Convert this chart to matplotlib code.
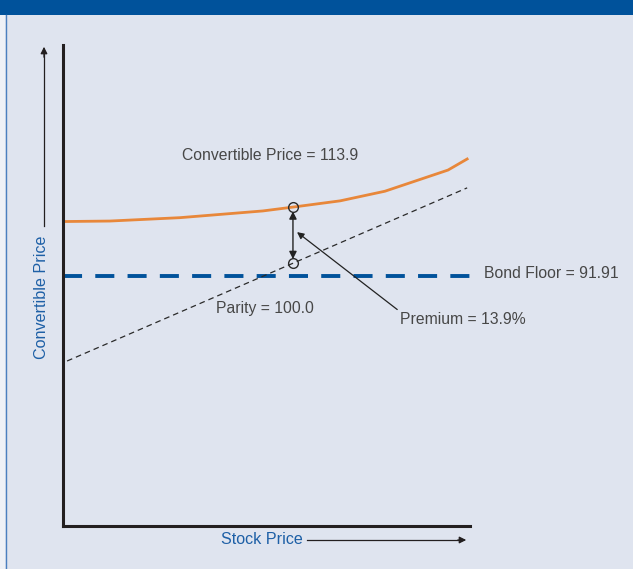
import matplotlib
matplotlib.use("Agg")
import matplotlib.pyplot as plt
from matplotlib.patches import Rectangle, FancyArrowPatch
from matplotlib.lines import Line2D

plt.rcParams['font.family'] = ['Liberation Sans', 'DejaVu Sans']

W, H = 633, 569
DPI = 100

# Schematic data (stock price index 0-100, price index 0-100)
stock_conv = [0.5, 11.5, 28.7, 49.1, 56.5, 68.1, 79.1, 94.6, 99.3]
conv_price = [63.3, 63.4, 64.1, 65.5, 66.3, 67.6, 69.6, 74.0, 76.3]
stock_parity = [1.0, 99.3]
parity = [34.3, 70.3]
bond_floor_level = 52.0
bond_floor_x = [0, 100.5]
current_stock = 56.5
current_conv = 66.3
current_parity = 54.6

labels = {
    "conv": "Convertible Price = 113.9",
    "parity": "Parity = 100.0",
    "premium": "Premium = 13.9%",
    "floor": "Bond Floor = 91.91",
    "ylabel": "Convertible Price",
    "xlabel": "Stock Price",
}

BG = '#dfe4ef'
NAVY = '#00529b'
ORANGE = '#e8873a'
LBLUE = '#1d5fa6'
DARK = '#231f20'
TXT = '#474747'
FS = 11.3

fig = plt.figure(figsize=(W / DPI, H / DPI), dpi=DPI)
fig.patch.set_facecolor(BG)

def fx(px):
    return px / W

def fy(py):
    return 1 - py / H

# header band
fig.patches.append(Rectangle((0, fy(14.5)), 1, 14.5 / H, transform=fig.transFigure,
                             facecolor=NAVY, edgecolor='none', zorder=0))
# left border
fig.patches.append(Rectangle((0, 0), fx(5), fy(14.5), transform=fig.transFigure,
                             facecolor='#eef1f7', edgecolor='none', zorder=0))
fig.add_artist(Line2D([fx(5.5), fx(5.5)], [0, fy(14.5)], transform=fig.transFigure,
                      color='#4a7fc0', lw=1))

ax = fig.add_axes([fx(63), fy(526), fx(470) - fx(63), fy(45) - fy(526)])
ax.set_facecolor('none')
ax.set_xlim(0, 100)
ax.set_ylim(0, 100)
for s in ['top', 'right']:
    ax.spines[s].set_visible(False)
for s in ['left', 'bottom']:
    ax.spines[s].set_color(DARK)
    ax.spines[s].set_linewidth(2.2)
ax.set_xticks([])
ax.set_yticks([])

# bond floor
ax.plot(bond_floor_x, [bond_floor_level] * 2, color=NAVY, lw=2.8,
        dashes=(4.9, 3.4), clip_on=False, dash_capstyle='butt')
# parity
ax.plot(stock_parity, parity, color='#2a2a2a', lw=0.9, dashes=(4.5, 3.2))
# convertible price
ax.plot(stock_conv, conv_price, color=ORANGE, lw=2.0)

# circles
ax.plot([current_stock, current_stock], [current_conv, current_parity], 'o',
        ms=7, mfc='none', mec='#2a2a2a', mew=1.0, zorder=5)

# double-headed premium arrow
ax.annotate('', xy=(current_stock, current_parity + 0.9), xytext=(current_stock, current_conv - 0.9),
            arrowprops=dict(arrowstyle='<|-|>', color='#222222', lw=1.0,
                            mutation_scale=11, shrinkA=0, shrinkB=0))

# premium label with pointer
ax.annotate(labels["premium"], xy=(57.5, 61.1), xytext=(82.8, 43.0),
            fontsize=FS, color=TXT, ha='left', va='center',
            arrowprops=dict(arrowstyle='-|>', color='#222222', lw=0.9,
                            mutation_scale=10, shrinkA=0, shrinkB=0,
                            relpos=(0, 1)))

ax.text(29.2, 77.1, labels["conv"], fontsize=FS, color=TXT, ha='left', va='center')
ax.text(37.6, 45.3, labels["parity"], fontsize=FS, color=TXT, ha='left', va='center')
ax.text(103.4, 52.4, labels["floor"], fontsize=FS, color=TXT, ha='left', va='center',
        clip_on=False)

# axis labels with arrows
fig.text(fx(42), fy(297), labels["ylabel"], rotation=90, color=LBLUE, fontsize=11.6,
         ha='center', va='center')
fig.add_artist(Line2D([fx(44), fx(44)], [fy(226), fy(52)], transform=fig.transFigure,
                      color=DARK, lw=0.9))
fig.patches.append(FancyArrowPatch(
    (fx(44), fy(60)), (fx(44), fy(44)), transform=fig.transFigure,
    arrowstyle='-|>', mutation_scale=10, color=DARK, lw=0.9))

fig.text(fx(262), fy(540), labels["xlabel"], color=LBLUE, fontsize=11.6,
         ha='center', va='center')
fig.add_artist(Line2D([fx(307), fx(462)], [fy(540), fy(540)], transform=fig.transFigure,
                      color=DARK, lw=0.9))
fig.patches.append(FancyArrowPatch(
    (fx(455), fy(540)), (fx(469), fy(540)), transform=fig.transFigure,
    arrowstyle='-|>', mutation_scale=10, color=DARK, lw=0.9))

fig.savefig('out.png', dpi=DPI, facecolor=BG)
